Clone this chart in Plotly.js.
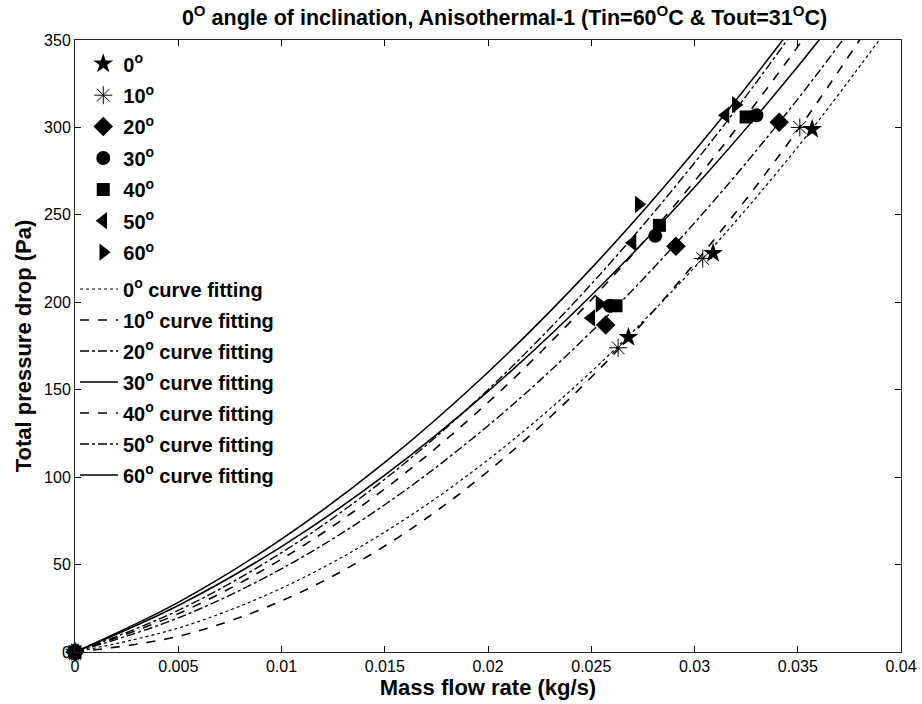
<!DOCTYPE html>
<html>
<head>
<meta charset="utf-8">
<script src="https://cdn.plot.ly/plotly-3.0.1.min.js"></script>
<style>
  html, body { margin: 0; padding: 0; background: #fff; }
  #chart { width: 922px; height: 704px; }
</style>
</head>
<body>
<div id="chart"></div>
<script>
// Measured points (mass flow rate kg/s, total pressure drop Pa)
const angles = ['0', '10', '20', '30', '40', '50', '60'];

const x0 = [0, 0.0268, 0.0309, 0.0357];
const y0 = [0, 180, 228, 299];
const x10 = [0, 0.0263, 0.0304, 0.0351];
const y10 = [0, 174, 225, 300];
const x20 = [0, 0.0257, 0.0291, 0.0341];
const y20 = [0, 187, 232, 303];
const x30 = [0, 0.0259, 0.0281, 0.0330];
const y30 = [0, 198, 238, 307];
const x40 = [0, 0.0262, 0.0283, 0.0325];
const y40 = [0, 198, 244, 306];
const x50 = [0, 0.0250, 0.0270, 0.0315];
const y50 = [0, 191, 234, 307];
const x60 = [0, 0.0254, 0.0273, 0.0320];
const y60 = [0, 199, 256, 313];

// Curve-fitting lines
const fitX = [0, 0.005, 0.01, 0.015, 0.02, 0.025, 0.03, 0.035, 0.04];
const fit0  = [0, 13.7, 36.5, 68.6, 109.9, 160.3, 219.9, 288.8, 366.9];
const fit10 = [0, 9.0, 29.2, 60.6, 103.3, 157.1, 222.2, 298.5, 386.0];
const fit20 = [0, 19.5, 47.6, 84.2, 129.4, 183.1, 245.4, 316.2, 395.6];
const fit30 = [0, 26.6, 60.3, 101.1, 149.0, 203.9, 265.8, 334.8, 410.9];
const fit40 = [0, 21.9, 53.1, 93.3, 142.7, 201.4, 269.2, 346.2, 432.4];
const fit50 = [0, 23.8, 56.8, 98.8, 150.0, 210.4, 279.8, 358.4, 445.9];
const fit60 = [0, 28.4, 64.6, 108.4, 160.0, 219.4, 286.5, 361.3, 443.9];

const xTicks = [0, 0.005, 0.01, 0.015, 0.02, 0.025, 0.03, 0.035, 0.04];
const xTickText = ['0', '0.005', '0.01', '0.015', '0.02', '0.025', '0.03', '0.035', '0.04'];
const yTicks = [0, 50, 100, 150, 200, 250, 300, 350];

const ptsX = [x0, x10, x20, x30, x40, x50, x60];
const ptsY = [y0, y10, y20, y30, y40, y50, y60];
const fits = [fit0, fit10, fit20, fit30, fit40, fit50, fit60];

const symbols = ['star', 'asterisk-open', 'diamond', 'circle', 'square', 'triangle-left', 'triangle-right'];
const sizes = [15, 15, 15, 14, 13, 15, 15];
const dashes = ['dot', 'dash', 'dashdot', 'solid', 'dash', 'dashdot', 'solid'];
const widths = [1.2, 1.6, 1.4, 1.6, 1.6, 1.4, 1.6];

const traces = [];
angles.forEach((a, i) => {
  traces.push({
    type: 'scatter', mode: 'markers',
    x: ptsX[i], y: ptsY[i],
    name: a + '<sup>o</sup>',
    legend: 'legend',
    legendgroup: 'm' + i,
    cliponaxis: false,
    marker: {
      symbol: symbols[i], size: sizes[i], color: '#000',
      line: { color: '#000', width: symbols[i] === 'asterisk-open' ? 1 : 0 }
    }
  });
});
angles.forEach((a, i) => {
  traces.push({
    type: 'scatter', mode: 'lines',
    x: fitX, y: fits[i],
    name: a + '<sup>o</sup> curve fitting',
    legend: 'legend2',
    legendgroup: 'c' + i,
    line: { color: '#000', dash: dashes[i], width: widths[i], shape: 'spline' }
  });
});

const fontFam = 'Liberation Sans, Arial, sans-serif';

const layout = {
  width: 922, height: 704,
  margin: { l: 75, r: 21, t: 40, b: 52 },
  paper_bgcolor: '#fff', plot_bgcolor: '#fff',
  font: { family: fontFam, color: '#000', size: 16 },
  title: {
    text: '0<sup>O</sup> angle of inclination, Anisothermal-1 (Tin=60<sup>O</sup>C & Tout=31<sup>O</sup>C)',
    font: { family: fontFam, size: 21.5, weight: 'bold', color: '#000' },
    x: 0.52, xanchor: 'center', xref: 'paper',
    y: 0.986, yanchor: 'top'
  },
  xaxis: {
    range: [0, 0.04],
    tickvals: xTicks, ticktext: xTickText,
    ticks: 'inside', ticklen: 6, tickcolor: '#000',
    showline: true, linecolor: '#222', linewidth: 1, mirror: 'ticks',
    showgrid: false, zeroline: false,
    tickfont: { family: fontFam, size: 16, color: '#000' },
    title: { text: 'Mass flow rate (kg/s)', font: { family: fontFam, size: 22, weight: 'bold' }, standoff: 2 }
  },
  yaxis: {
    range: [0, 350],
    tickvals: yTicks,
    ticks: 'inside', ticklen: 6, tickcolor: '#000',
    showline: true, linecolor: '#222', linewidth: 1, mirror: 'ticks',
    showgrid: false, zeroline: false,
    tickfont: { family: fontFam, size: 16, color: '#000' },
    title: { text: 'Total pressure drop (Pa)', font: { family: fontFam, size: 22, weight: 'bold' }, standoff: 6 }
  },
  legend: {
    x: 0.01, y: 0.993, xanchor: 'left', yanchor: 'top',
    bgcolor: 'rgba(0,0,0,0)', borderwidth: 0,
    font: { family: fontFam, size: 20, weight: 'bold', color: '#000' },
    tracegroupgap: 2.4, traceorder: 'grouped'
  },
  legend2: {
    x: 0.0, y: 0.625, xanchor: 'left', yanchor: 'top',
    bgcolor: 'rgba(0,0,0,0)', borderwidth: 0,
    font: { family: fontFam, size: 20, weight: 'bold', color: '#000' },
    tracegroupgap: 2, traceorder: 'grouped', itemwidth: 38
  },
  showlegend: true
};

Plotly.newPlot('chart', traces, layout, { displayModeBar: false, staticPlot: true });
</script>
</body>
</html>
